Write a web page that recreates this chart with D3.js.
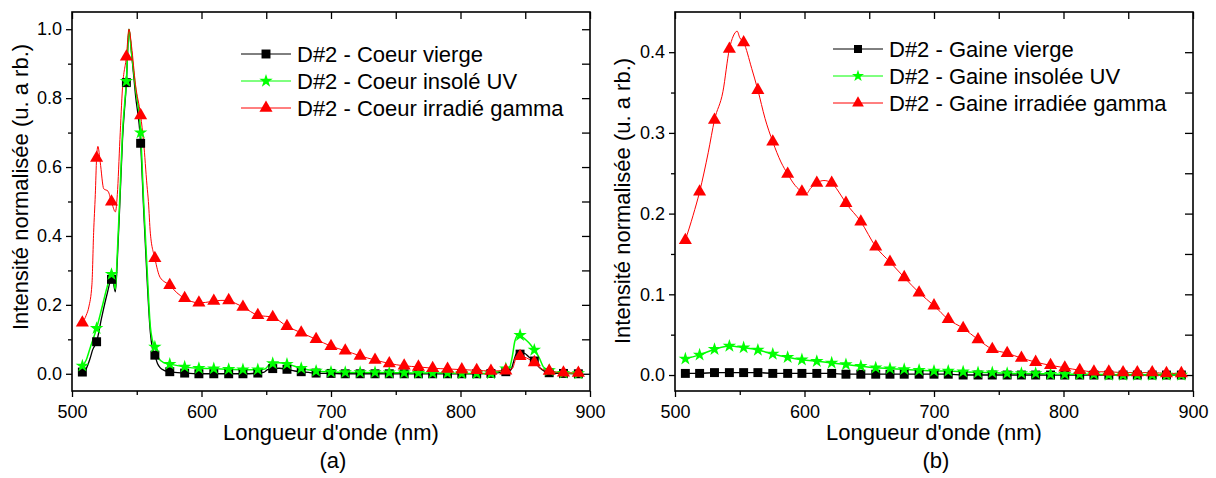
<!DOCTYPE html>
<html>
<head>
<meta charset="utf-8">
<script src="https://cdn.jsdelivr.net/npm/d3@7"></script>
<style>
  html, body { margin: 0; padding: 0; background: #fff; }
  svg { display: block; }
  text { font-family: "Liberation Sans", Arial, sans-serif; fill: #000; }
</style>
</head>
<body>
<svg id="chart" width="1216" height="478"></svg>
<script>
// ---------------- DATA ----------------
// wavelengths (nm) where the markers sit
const markerNm = [508, 519, 530.5, 542, 553, 564, 575.5, 587, 598, 609.5, 621, 632, 643.5, 655, 666, 677, 688.5, 700, 711, 722.5, 734, 745, 756.5, 767.5, 778.5, 790, 801, 812.5, 823.5, 835, 846, 857, 868.5, 879.5, 891];

// panel (a) : core
const coeurVierge = [0.005, 0.093, 0.274, 0.845, 0.669, 0.054, 0.006, 0.002, 0.000, 0.000, 0.000, 0.000, 0.002, 0.015, 0.013, 0.006, 0.002, 0.001, 0.000, 0.000, 0.000, 0.000, 0.000, 0.000, 0.000, 0.000, 0.000, 0.000, 0.001, 0.006, 0.057, 0.037, 0.003, 0.001, 0.000];
const coeurUV = [0.023, 0.132, 0.289, 0.849, 0.700, 0.078, 0.028, 0.020, 0.016, 0.015, 0.013, 0.012, 0.012, 0.030, 0.028, 0.016, 0.008, 0.005, 0.004, 0.004, 0.004, 0.003, 0.003, 0.002, 0.002, 0.002, 0.001, 0.001, 0.001, 0.015, 0.112, 0.069, 0.010, 0.002, 0.001];
const coeurGamma = [0.148, 0.626, 0.499, 0.920, 0.750, 0.335, 0.257, 0.219, 0.206, 0.211, 0.213, 0.194, 0.170, 0.164, 0.138, 0.119, 0.100, 0.080, 0.067, 0.052, 0.040, 0.030, 0.023, 0.020, 0.016, 0.014, 0.012, 0.010, 0.008, 0.009, 0.051, 0.033, 0.008, 0.003, 0.002];

// extra line points between markers (nm, value)
const coeurViergeDetail = [[511,0.015],[514,0.045],[516,0.07],[523,0.165],[527,0.23],[532,0.262],[533.5,0.238],[535,0.33],[537,0.5],[539,0.68],[544,1.0],[546,0.93],[549,0.81],[555.3,0.48],[557.9,0.28],[560.5,0.12],[562,0.075],[566,0.03],[568,0.018],[571,0.01],[648,0.004],[651,0.012],[660,0.016],[672,0.008],[839,0.012],[841,0.035],[843,0.058],[845,0.063],[849,0.06],[853,0.048],[861,0.018],[865,0.007]];
const coeurUVDetail = [[511,0.04],[514,0.075],[523,0.19],[527,0.25],[532,0.272],[533.5,0.245],[535,0.35],[537,0.52],[539,0.7],[544,1.0],[546,0.93],[549,0.83],[555.3,0.5],[557.9,0.31],[560.5,0.136],[562,0.098],[567,0.045],[571,0.032],[649,0.014],[652,0.025],[660,0.032],[672,0.022],[838,0.02],[840,0.05],[842,0.095],[845,0.115],[850,0.1],[854,0.085],[861,0.045],[864,0.02]];
const coeurGammaDetail = [[511,0.17],[513,0.194],[515.4,0.26],[516.7,0.41],[518,0.52],[520,0.66],[521.8,0.614],[524.5,0.537],[527.8,0.53],[533.5,0.47],[535,0.52],[537,0.68],[539,0.83],[544,1.0],[546,0.95],[549,0.84],[555.3,0.672],[557.9,0.547],[559,0.5],[560.5,0.408],[568,0.28],[581,0.235],[592,0.21],[603,0.207],[615,0.213],[626,0.205],[840,0.015],[843,0.045],[849,0.049],[853,0.042],[862,0.015]];

// panel (b) : cladding
const gaineVierge = [0.002, 0.002, 0.003, 0.003, 0.003, 0.003, 0.002, 0.002, 0.002, 0.002, 0.002, 0.001, 0.001, 0.001, 0.001, 0.001, 0.001, 0.001, 0.001, 0.000, 0.000, 0.000, 0.000, 0.000, 0.000, 0.000, 0.000, 0.000, 0.000, 0.000, 0.000, 0.000, 0.000, 0.000, 0.000];
const gaineUV = [0.020, 0.025, 0.032, 0.036, 0.034, 0.031, 0.026, 0.022, 0.019, 0.017, 0.015, 0.013, 0.011, 0.009, 0.008, 0.007, 0.006, 0.005, 0.005, 0.004, 0.003, 0.003, 0.002, 0.002, 0.002, 0.001, 0.001, 0.001, 0.001, 0.000, 0.000, 0.000, 0.000, 0.000, 0.000];
const gaineGamma = [0.167, 0.227, 0.316, 0.404, 0.412, 0.353, 0.289, 0.249, 0.227, 0.238, 0.238, 0.213, 0.190, 0.159, 0.140, 0.121, 0.102, 0.086, 0.069, 0.058, 0.044, 0.032, 0.027, 0.021, 0.016, 0.012, 0.009, 0.006, 0.004, 0.004, 0.003, 0.003, 0.003, 0.002, 0.002];
const gaineViergeDetail = [];
const gaineUVDetail = [];
const gaineGammaDetail = [[514,0.198],[525.7,0.276],[537,0.351],[545,0.42],[548,0.426],[550,0.418],[559.2,0.38],[569.5,0.318],[581.8,0.264],[592.7,0.235],[601,0.224],[605,0.232],[615,0.241],[626,0.228]];

// ticks and labels
const xTicks = [500, 600, 700, 800, 900];
const xMinorTicks = [550, 650, 750, 850];
const yTicksA = [0.0, 0.2, 0.4, 0.6, 0.8, 1.0];
const yMinorTicksA = [0.1, 0.3, 0.5, 0.7, 0.9];
const yTicksB = [0.0, 0.1, 0.2, 0.3, 0.4];
const yMinorTicksB = [0.05, 0.15, 0.25, 0.35];
const legendA = ["D#2 - Coeur vierge", "D#2 - Coeur insolé UV", "D#2 - Coeur irradié gamma"];
const legendB = ["D#2 - Gaine vierge", "D#2 - Gaine insolée UV", "D#2 - Gaine irradiée gamma"];
const xTitle = "Longueur d'onde (nm)";
const yTitle = "Intensité normalisée (u. a rb.)";

// ---------------- DRAW ----------------
const svg = d3.select("#chart");
const colors = ["#000000", "#00ff00", "#ff0000"];
const symbols = [d3.symbolSquare, d3.symbolStar, d3.symbolTriangle];
const symSizes = [80, 56, 74];
const lineW = [1.3, 1.5, 1.0];

function drawPanel(p) {
  const g = svg.append("g");
  const x = d3.scaleLinear().domain([500, 900]).range([p.left, p.right]);
  const y = d3.scaleLinear().domain(p.yDomain).range([p.bottom, p.top]);

  // axes
  const fmt = d3.format(".1f");
  const styleAxis = sel => { sel.select(".domain").remove(); sel.selectAll("line").attr("stroke", "#000").attr("stroke-width", 1.3); sel.selectAll("text").attr("font-size", 18).attr("font-family", "Liberation Sans, Arial, sans-serif").attr("fill", "#000"); };

  g.append("g").attr("transform", `translate(0,${p.bottom})`)
    .call(d3.axisBottom(x).tickValues(xTicks).tickSize(6).tickPadding(8).tickFormat(d3.format("d"))).call(styleAxis);
  g.append("g").attr("transform", `translate(0,${p.bottom})`)
    .call(d3.axisBottom(x).tickValues(xMinorTicks).tickSize(4).tickFormat("")).call(styleAxis);
  g.append("g").attr("transform", `translate(0,${p.top})`)
    .call(d3.axisTop(x).tickValues(xTicks.concat(xMinorTicks)).tickSize(-7).tickFormat("")).call(styleAxis);

  g.append("g").attr("transform", `translate(${p.left},0)`)
    .call(d3.axisLeft(y).tickValues(p.yTicks).tickSize(6).tickPadding(4).tickFormat(fmt)).call(styleAxis);
  g.append("g").attr("transform", `translate(${p.left},0)`)
    .call(d3.axisLeft(y).tickValues(p.yMinor).tickSize(4).tickFormat("")).call(styleAxis);
  g.append("g").attr("transform", `translate(${p.right},0)`)
    .call(d3.axisRight(y).tickValues(p.yTicks.concat(p.yMinor)).tickSize(-8).tickFormat("")).call(styleAxis);

  // frame
  g.append("rect").attr("x", p.left).attr("y", p.top)
    .attr("width", p.right - p.left).attr("height", p.bottom - p.top)
    .attr("fill", "none").attr("stroke", "#000").attr("stroke-width", 1.6);

  // clip
  const cid = "clip" + p.id;
  svg.append("defs").append("clipPath").attr("id", cid)
    .append("rect").attr("x", p.left).attr("y", p.top).attr("width", p.right - p.left).attr("height", p.bottom - p.top);
  const plot = g.append("g").attr("clip-path", `url(#${cid})`);

  const line = d3.line().x(d => x(d[0])).y(d => y(d[1])).curve(d3.curveMonotoneX);

  p.series.forEach((vals, i) => {
    const pts = markerNm.map((n, k) => [n, vals[k]]).concat(p.details[i]).sort((a, b) => a[0] - b[0]);
    plot.append("path").datum(pts).attr("d", line)
      .attr("fill", "none").attr("stroke", colors[i]).attr("stroke-width", lineW[i]).attr("stroke-linejoin", "round");
  });
  p.series.forEach((vals, i) => {
    plot.append("g").selectAll("path").data(markerNm.map((n, k) => [n, vals[k]])).join("path")
      .attr("transform", d => `translate(${x(d[0])},${y(d[1])})`)
      .attr("d", d3.symbol().type(symbols[i]).size(symSizes[i]))
      .attr("fill", colors[i]);
  });

  // legend
  p.legend.forEach((label, i) => {
    const ly = p.legY + i * p.legDy;
    g.append("line").attr("x1", p.legX).attr("x2", p.legX + 50).attr("y1", ly).attr("y2", ly)
      .attr("stroke", colors[i]).attr("stroke-width", 1);
    g.append("path").attr("transform", `translate(${p.legX + 25},${ly})`)
      .attr("d", d3.symbol().type(symbols[i]).size(symSizes[i] * p.legScale)).attr("fill", colors[i]);
    g.append("text").attr("x", p.legX + 56).attr("y", ly).attr("dy", "0.35em")
      .attr("font-size", 22).text(label);
  });

  // titles
  const cx = (p.left + p.right) / 2;
  g.append("text").attr("x", cx).attr("y", 440).attr("text-anchor", "middle").attr("font-size", 22).text(xTitle);
  g.append("text").attr("x", cx + 2).attr("y", 468).attr("text-anchor", "middle").attr("font-size", 22).text(p.tag);
  g.append("text").attr("transform", `translate(${p.yTitleX},${p.yTitleY}) rotate(-90)`)
    .attr("text-anchor", "middle").attr("font-size", 22).text(yTitle);
}

drawPanel({
  id: "a", left: 72, right: 590, top: 12, bottom: 391, yDomain: [-0.05, 1.05],
  yTicks: yTicksA, yMinor: yMinorTicksA,
  series: [coeurVierge, coeurUV, coeurGamma],
  details: [coeurViergeDetail, coeurUVDetail, coeurGammaDetail],
  legend: legendA, legX: 241, legY: 54, legDy: 27, legScale: 1,
  tag: "(a)", yTitleX: 28, yTitleY: 187
});
drawPanel({
  id: "b", left: 675, right: 1193, top: 12, bottom: 391, yDomain: [-0.0198, 0.4498],
  yTicks: yTicksB, yMinor: yMinorTicksB,
  series: [gaineVierge, gaineUV, gaineGamma],
  details: [gaineViergeDetail, gaineUVDetail, gaineGammaDetail],
  legend: legendB, legX: 833, legY: 49, legDy: 27, legScale: 0.8,
  tag: "(b)", yTitleX: 630, yTitleY: 201
});
</script>
</body>
</html>
